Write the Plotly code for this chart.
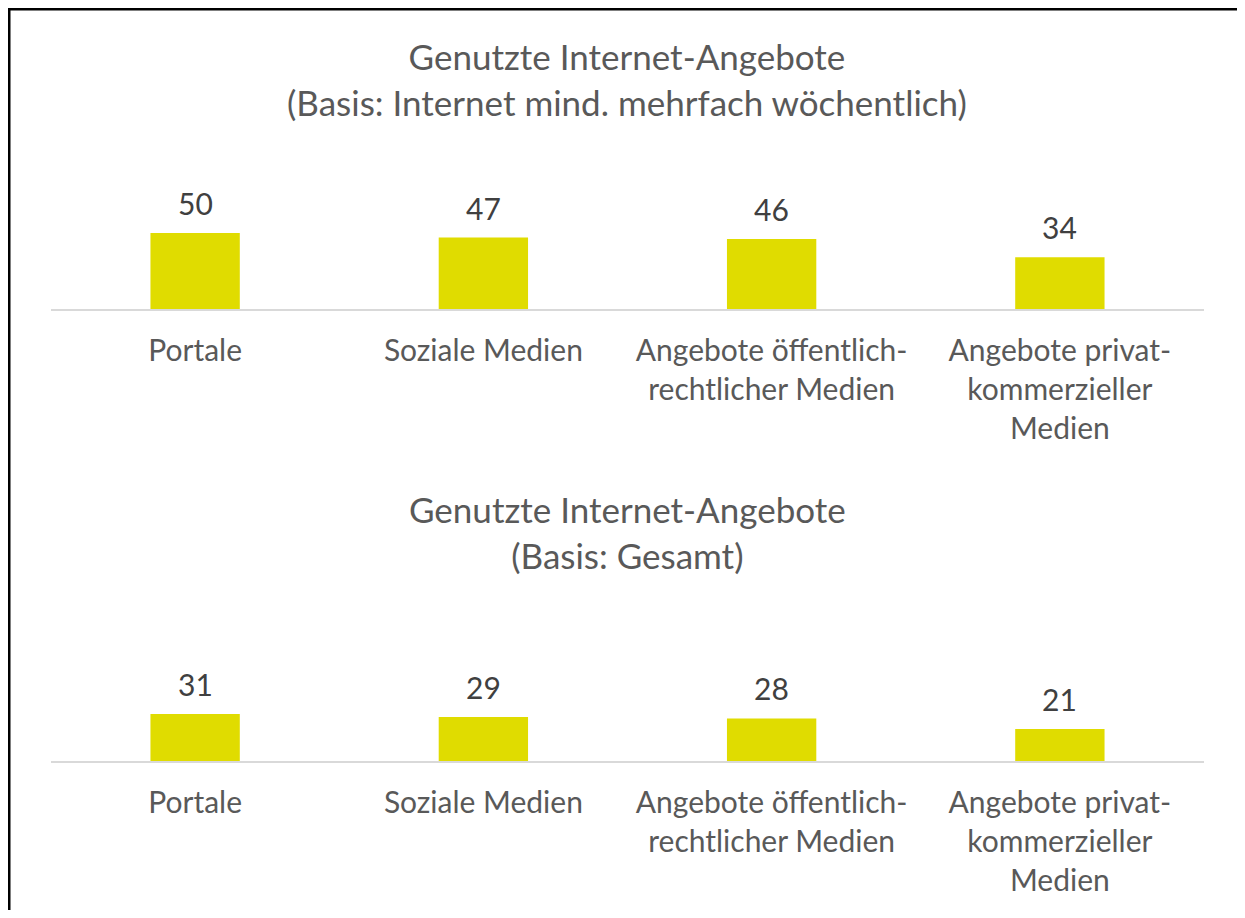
import plotly.graph_objects as go

categories = ["Portale", "Soziale Medien", "Angebote öffentlich-<br>rechtlicher Medien",
              "Angebote privat-<br>kommerzieller<br>Medien"]
values_weekly = [50, 47, 46, 34]
values_total = [31, 29, 28, 21]
title_top = "Genutzte Internet-Angebote<br>(Basis: Internet mind. mehrfach wöchentlich)"
title_bottom = "Genutzte Internet-Angebote<br>(Basis: Gesamt)"

# the page has an 8px body margin; keep the figure inside the window
OFF = 8
W, H = 1245 - OFF, 918 - 2 * OFF
BAR_COLOR = "#E0DC00"
FONT = "Lato"
LABEL_COLOR = "#595959"
VALUE_COLOR = "#404040"

def px_x(p):
    return (p - OFF) / W

def px_y(p):
    return 1 - (p - OFF) / H

fig = go.Figure()
fig.add_trace(go.Bar(x=categories, y=values_weekly, xaxis="x", yaxis="y",
                     marker=dict(color=BAR_COLOR, line=dict(width=0)), width=0.31,
                     hoverinfo="skip", showlegend=False))
fig.add_trace(go.Bar(x=categories, y=values_total, xaxis="x2", yaxis="y2",
                     marker=dict(color=BAR_COLOR, line=dict(width=0)), width=0.31,
                     hoverinfo="skip", showlegend=False))

annotations = []
for xa, ya, vals in (("x", "y", values_weekly), ("x2", "y2", values_total)):
    for c, v in zip(categories, vals):
        annotations.append(dict(x=c, y=v, xref=xa, yref=ya, text=str(v), showarrow=False,
                                yanchor="middle", yshift=30,
                                font=dict(family=FONT, size=30, color=VALUE_COLOR)))

for t, cy in ((title_top, 79), (title_bottom, 532)):
    annotations.append(dict(x=px_x(627), y=px_y(cy), xref="paper", yref="paper", text=t,
                            showarrow=False, xanchor="center", yanchor="middle", align="center",
                            font=dict(family=FONT, size=35, color=LABEL_COLOR)))

ymax = (309 - 200) / 1.52
xdom = [px_x(51), px_x(1204)]
axis_common = dict(showgrid=False, zeroline=False, showline=True, linecolor="#D9D9D9",
                   linewidth=2, ticks="", ticklabelstandoff=14,
                   tickfont=dict(family=FONT, size=30, color=LABEL_COLOR), fixedrange=True)
yaxis_common = dict(visible=False, showgrid=False, zeroline=False, range=[0, ymax], fixedrange=True)

fig.update_layout(
    width=W, height=H, margin=dict(l=0, r=0, t=0, b=0),
    paper_bgcolor="white", plot_bgcolor="white",
    xaxis=dict(domain=xdom, anchor="y", **axis_common),
    yaxis=dict(domain=[px_y(309), px_y(200)], anchor="x", **yaxis_common),
    xaxis2=dict(domain=xdom, anchor="y2", **axis_common),
    yaxis2=dict(domain=[px_y(761), px_y(652)], anchor="x2", **yaxis_common),
    annotations=annotations,
    shapes=[
        dict(type="line", xref="paper", yref="paper", x0=px_x(9), x1=px_x(9), y0=0, y1=1,
             line=dict(color="black", width=3)),
        dict(type="line", xref="paper", yref="paper", x0=0, x1=1, y0=px_y(9), y1=px_y(9),
             line=dict(color="black", width=3)),
    ],
    bargap=0.69,
)

fig.write_html("out.html")
